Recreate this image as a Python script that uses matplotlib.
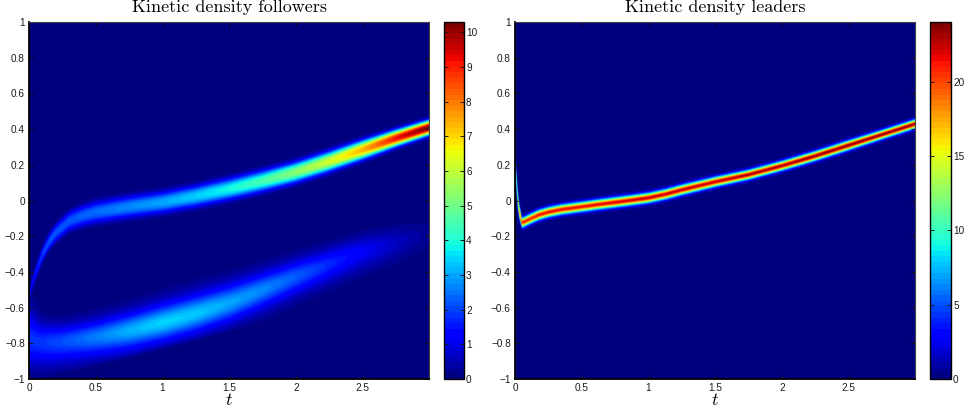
import numpy as np
import matplotlib
matplotlib.use("Agg")
import matplotlib.pyplot as plt

plt.rcParams['font.family'] = ['Liberation Sans', 'DejaVu Sans']
plt.rcParams['mathtext.fontset'] = 'cm'

# Ridge descriptions: time, centre, peak, spread below/above
upper_t = [0, 0.03, 0.06, 0.1, 0.15, 0.2, 0.3, 0.4, 0.5, 0.75, 1, 1.25, 1.5, 1.75, 2, 2.25, 2.5, 2.75, 3]
upper_y = [-0.53, -0.45, -0.38, -0.30, -0.23, -0.18, -0.115, -0.085, -0.065, -0.035, -0.01, 0.025, 0.065, 0.11, 0.16, 0.22, 0.285, 0.35, 0.41]
upper_peak = [1.2, 1.6, 1.9, 2.1, 2.2, 2.2, 2.2, 2.3, 2.4, 2.7, 3.0, 3.4, 3.9, 4.5, 5.3, 6.2, 7.4, 9.2, 10.3]
upper_sd = [0.014, 0.019, 0.023, 0.027, 0.031, 0.034, 0.038, 0.041, 0.043, 0.043, 0.042, 0.042, 0.042, 0.041, 0.040, 0.039, 0.037, 0.032, 0.029]

lower_t = [0, 0.05, 0.1, 0.25, 0.5, 0.75, 1, 1.25, 1.5, 1.75, 2, 2.25, 2.5, 2.75, 3]
lower_y = [-0.78, -0.79, -0.795, -0.79, -0.765, -0.73, -0.685, -0.635, -0.575, -0.5, -0.425, -0.355, -0.285, -0.235, -0.185]
lower_peak = [1.7, 1.7, 1.75, 1.95, 2.4, 2.9, 3.2, 3.1, 2.8, 2.5, 2.1, 1.6, 1.1, 0.6, 0.2]
lower_sd_down = [0.095, 0.09, 0.085, 0.078, 0.072, 0.070, 0.068, 0.068, 0.068, 0.068, 0.066, 0.066, 0.066, 0.066, 0.066]
lower_sd_up = [0.12, 0.085, 0.065, 0.058, 0.060, 0.064, 0.068, 0.070, 0.068, 0.062, 0.058, 0.056, 0.055, 0.055, 0.055]

leader_t = [0, 0.01, 0.02, 0.03, 0.05, 0.08, 0.12, 0.18, 0.25, 0.35, 0.5, 0.625, 0.75, 0.875, 1, 1.125, 1.25, 1.5, 1.75, 2, 2.25, 2.5, 2.75, 3]
leader_y = [0.2, 0.1, 0.0, -0.06, -0.125, -0.115, -0.1, -0.08, -0.065, -0.05, -0.035, -0.022, -0.01, 0.002, 0.015, 0.035, 0.06, 0.105, 0.145, 0.195, 0.25, 0.31, 0.37, 0.43]
leader_peak = [11, 12.5, 14, 17, 21, 21, 21, 21.5, 21.5, 21.5, 21.5, 21.8, 22, 22.2, 22.5, 22.5, 22.5, 22.5, 23, 23, 23.5, 23.5, 23.5, 23.5]
leader_sd = [0.03, 0.036, 0.034, 0.026, 0.018, 0.018, 0.018, 0.018, 0.018, 0.018, 0.018, 0.018, 0.018, 0.018, 0.018, 0.018, 0.018, 0.0175, 0.017, 0.017, 0.017, 0.017, 0.016, 0.016]

t_limit = 2.995
x_ticks = [0, 0.5, 1, 1.5, 2, 2.5]
y_ticks = [-1, -0.8, -0.6, -0.4, -0.2, 0, 0.2, 0.4, 0.6, 0.8, 1]
y_labels = ['\u22121', '\u22120.8', '\u22120.6', '\u22120.4', '\u22120.2', '0', '0.2', '0.4', '0.6', '0.8', '1']
cbar_left_ticks = [0, 1, 2, 3, 4, 5, 6, 7, 8, 9, 10]
cbar_right_ticks = [0, 5, 10, 15, 20]
left_max = 10.3
right_max = 24.0
titles = ['Kinetic density followers', 'Kinetic density leaders']

tt = np.linspace(0, t_limit, 800)
yy = np.linspace(-1, 1, 714)
T, Y = np.meshgrid(tt, yy)


def at(knots_t, values):
    return np.interp(T, knots_t, values)


def smooth_rows(field, n=31):
    kernel = np.hanning(n + 2)[1:-1]
    kernel = kernel / kernel.sum()
    padded = np.pad(field, ((0, 0), (n // 2, n // 2)), mode='edge')
    return np.apply_along_axis(lambda r: np.convolve(r, kernel, mode='valid'), 1, padded)


def bump(z, power=2.0):
    return np.exp(-0.5 * np.abs(z) ** power)


u = at(upper_t, upper_peak) * bump((Y - at(upper_t, upper_y)) / at(upper_t, upper_sd), 2.5)
c = at(lower_t, lower_y)
sd = np.where(Y < c, at(lower_t, lower_sd_down), at(lower_t, lower_sd_up))
l = at(lower_t, lower_peak) * bump((Y - c) / sd, 2.0)
halo = 0.08 * at(lower_t, lower_peak) * bump((Y - c) / (2.0 * sd))
followers = smooth_rows(u, 9) + smooth_rows(l + halo)
edge = -1 + 0.19 * T
followers = np.where(Y < edge, followers * np.exp(-((edge - Y) / 0.025) ** 2), followers)

leaders = at(leader_t, leader_peak) * bump((Y - at(leader_t, leader_y)) / at(leader_t, leader_sd))

W, H = 964, 412
top, bottom = 22, 379
panels = [
    (29, 429, 444, 464, followers, left_max, cbar_left_ticks, titles[0]),
    (515, 915, 930, 951, leaders, right_max, cbar_right_ticks, titles[1]),
]
cmap = plt.get_cmap('jet', 64)
fig = plt.figure(figsize=(W / 100, H / 100), dpi=100)

for x0, x1, c0, c1, data, vmax, cticks, title in panels:
    ax = fig.add_axes([x0 / W, 1 - bottom / H, (x1 - x0) / W, (bottom - top) / H])
    im = ax.imshow(data, origin='lower', extent=[0, t_limit, -1, 1], aspect='auto',
                   cmap=cmap, vmin=0, vmax=vmax, interpolation='bilinear')
    ax.set_xlim(0, t_limit)
    ax.set_ylim(-1, 1)
    ax.set_xticks(x_ticks)
    ax.set_xticklabels(['0', '0.5', '1', '1.5', '2', '2.5'])
    ax.set_yticks(y_ticks)
    ax.set_yticklabels(y_labels)
    ax.tick_params(direction='in', top=True, right=True, length=3, width=0.7, labelsize=7.2, pad=3, colors='#1a1a1a')
    ax.spines['top'].set(linewidth=0.8, color='#444444')
    ax.spines['right'].set(linewidth=0.8, color='#444444')
    ax.spines['left'].set_linewidth(1.3)
    ax.spines['bottom'].set_linewidth(1.3)
    ax.set_title(title, family='cmr10', fontsize=13, pad=7)
    ax.set_xlabel('$t$', fontsize=13, labelpad=-1)

    cax = fig.add_axes([c0 / W, 1 - bottom / H, (c1 - c0) / W, (bottom - top) / H])
    cb = fig.colorbar(im, cax=cax)
    cb.set_ticks(cticks)
    cb.ax.tick_params(direction='in', left=True, right=True, length=3, width=0.7, labelsize=7.2, pad=1.5, colors='#1a1a1a')
    cb.outline.set_linewidth(1.0)

fig.savefig('out.png', dpi=100)
